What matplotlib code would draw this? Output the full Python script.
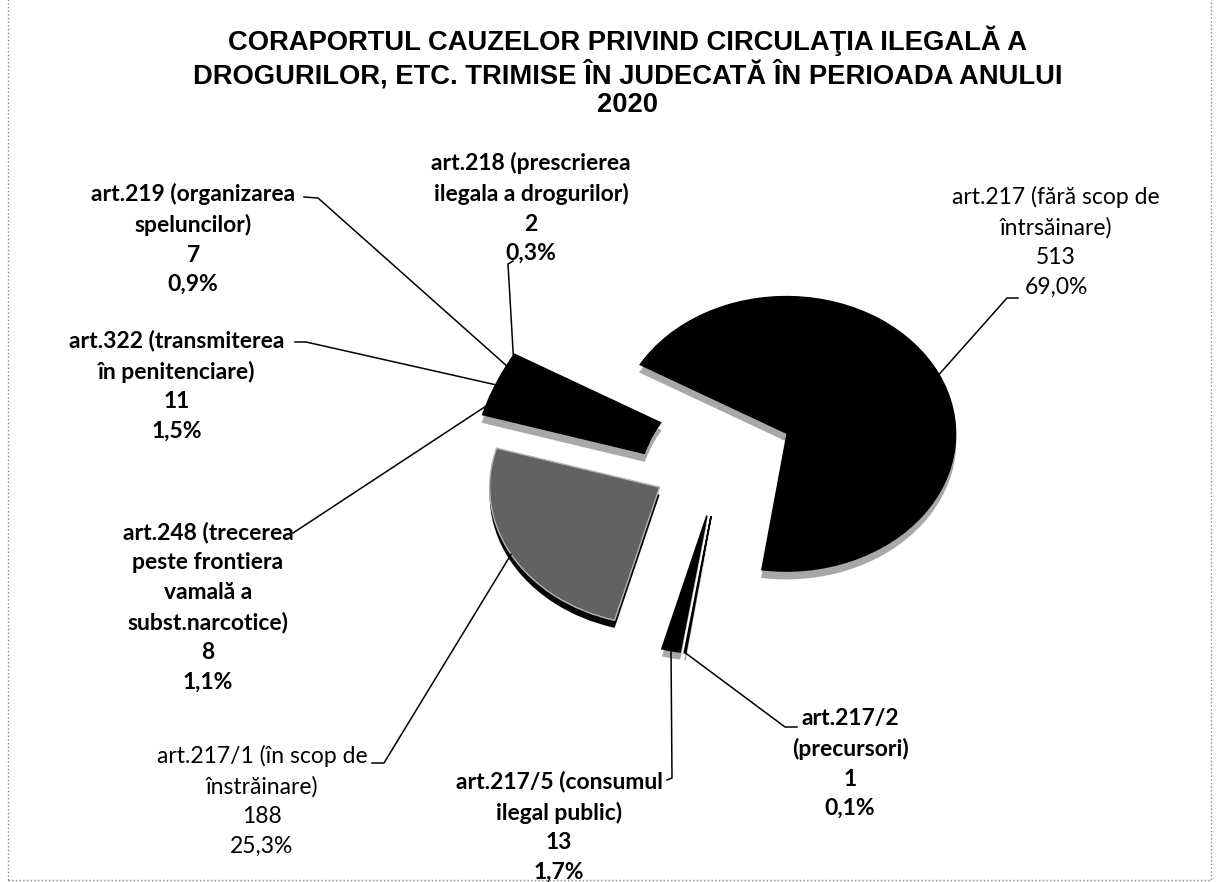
import numpy as np
import matplotlib
matplotlib.use("Agg")
import matplotlib.pyplot as plt
from matplotlib.lines import Line2D
from matplotlib.patches import Rectangle

# ---------------- data ----------------
title_lines = ["CORAPORTUL CAUZELOR PRIVIND CIRCULAŢIA ILEGALĂ A",
               "DROGURILOR, ETC. TRIMISE ÎN JUDECATĂ ÎN PERIOADA ANULUI",
               "2020"]
categories = ["art.217 (fără scop de\nîntrsăinare)",
              "art.217/2\n(precursori)",
              "art.217/5 (consumul\nilegal public)",
              "art.217/1 (în scop de\nînstrăinare)",
              "art.248 (trecerea\npeste frontiera\nvamală a\nsubst.narcotice)",
              "art.322 (transmiterea\nîn penitenciare)",
              "art.219 (organizarea\nspeluncilor)",
              "art.218 (prescrierea\nilegala a drogurilor)"]
values = [513, 1, 13, 188, 8, 11, 7, 2]

# ---------------- style / layout ----------------
W, H = 1217, 882
LBL_FONT = ["Lato", "DejaVu Sans"]
TTL_FONT = ["Liberation Sans", "DejaVu Sans"]
slice_colors = ["#000000", "#000000", "#000000", "#626262",
                "#000000", "#000000", "#000000", "#000000"]
side_colors = ["#a8a8a8", "#a8a8a8", "#a8a8a8", "#050505",
               "#a8a8a8", "#a8a8a8", "#a8a8a8", "#a8a8a8"]
explode = [0.42] * len(values)
start_angle = 150
depth = 0.055
cx, cy = 722, 459       # pie centre in pixels (from top-left)
rx, ry = 170, 138       # pixels per data unit (perspective squash)
# the small, strongly exploded group drawn in perspective (far apex, truncated)
small_group = [4, 5, 6, 7]
small_apex, small_r, small_w = (0.47, -0.225), 1.95, 0.98

# label block: centre x, top y (pixels from top), weight
label_pos = [(1056, 186, "normal"), (850, 708, "bold"), (559, 771, "bold"),
             (262, 745, "normal"), (208, 522, "bold"), (177, 330, "bold"),
             (193, 183, "bold"), (531, 152, "bold")]
# leader line start points (pixels from top): text end, bend
leader_pts = [[(1018, 298), (1007, 298)],
              [(797, 727), (785, 727)],
              [(667, 780), (672, 778)],
              [(372, 763), (384, 763)],
              [(293, 533), (293, 533)],
              [(295, 342), (306, 342)],
              [(304, 197), (318, 198)],
              [(513, 261), (508, 264)]]

fig = plt.figure(figsize=(W / 100, H / 100), dpi=100)
fig.patch.set_facecolor("white")
ax = fig.add_axes([0, 0, 1, 1])

# side (depth) layer
side, _ = ax.pie(values, explode=explode, colors=side_colors,
                 startangle=start_angle, counterclock=False,
                 center=(0, -depth), wedgeprops=dict(linewidth=0))
# top faces
wedges, _ = ax.pie(values, explode=explode, colors=slice_colors,
                   startangle=start_angle, counterclock=False,
                   wedgeprops=dict(linewidth=0))
for i in small_group:
    for wd, dy in ((side[i], -depth), (wedges[i], 0.0)):
        wd.set_center((small_apex[0], small_apex[1] + dy))
        wd.set_radius(small_r)
        wd.set_width(small_w)
        wd.set_edgecolor(wd.get_facecolor())
        wd.set_linewidth(2.5)
        wd.set_joinstyle("miter")
for i in (1, 2):
    wedges[i].set_edgecolor("black")
    wedges[i].set_linewidth(1.2)
wedges[3].set_edgecolor("#b5b5b5")
wedges[3].set_linewidth(1.0)

ax.set_aspect("auto")
ax.set_xlim(-cx / rx, (W - cx) / rx)
ax.set_ylim(-(H - cy) / ry, cy / ry)
ax.set_axis_off()

# title
fig.text(628 / W, 1 - 26 / H, "\n".join(title_lines), ha="center", va="top",
         fontsize=19.7, fontweight="bold", family=TTL_FONT, linespacing=1.14)

total = sum(values)
for i, (cat, v) in enumerate(zip(categories, values)):
    pct = f"{100 * v / total:.1f}".replace(".", ",") + "%"
    x, y, wgt = label_pos[i]
    fig.text(x / W, 1 - y / H, f"{cat}\n{v}\n{pct}", ha="center", va="top",
             fontsize=16.5, fontweight=wgt, family=LBL_FONT, linespacing=1.5)
    w = wedges[i]
    th = np.deg2rad((w.theta1 + w.theta2) / 2)
    ax_pt = (w.center[0] + w.r * np.cos(th), w.center[1] + w.r * np.sin(th))
    px, py = ax.transData.transform(ax_pt)
    (x0, y0), (x1, y1) = leader_pts[i]
    fig.add_artist(Line2D([x0, x1, px], [H - y0, H - y1, py], transform=None,
                          color="black", lw=1.1))

# dotted frame of the original chart area
fig.add_artist(Rectangle((8, 2), W - 14, H + 10, transform=None, fill=False,
                         edgecolor="#888888", lw=1, ls=":"))

fig.savefig("out.png", dpi=100, facecolor="white")
